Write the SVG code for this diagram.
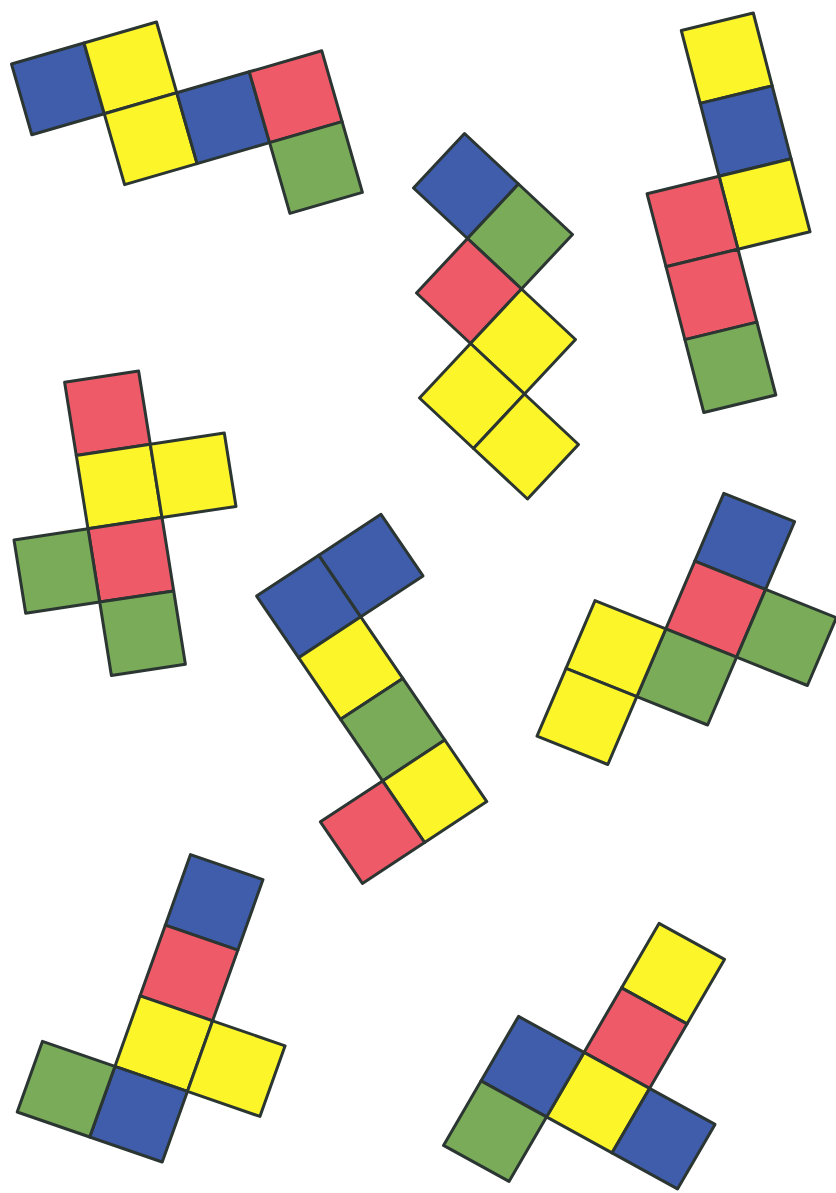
<svg xmlns="http://www.w3.org/2000/svg" width="836" height="1193" viewBox="0 0 836 1193">
<style>
rect{stroke:#2B3532;stroke-width:3;vector-effect:non-scaling-stroke;stroke-linejoin:round}
.b{fill:#3F5DAB}.y{fill:#FBF52A}.r{fill:#EF5A68}.g{fill:#79AB58}
</style>
<rect x="0" y="0" width="836" height="1193" fill="#FFFFFF" style="stroke:none"/>
<g id="net1" transform="matrix(72.5 -21 20.3 70.8 11.5 64)">
<rect class="b" x="0" y="0" width="1" height="1"/>
<rect class="y" x="1" y="0" width="1" height="1"/>
<rect class="y" x="1" y="1" width="1" height="1"/>
<rect class="b" x="2" y="1" width="1" height="1"/>
<rect class="r" x="3" y="1" width="1" height="1"/>
<rect class="g" x="3" y="2" width="1" height="1"/>
</g>
<g id="net2" transform="matrix(54 50.5 -51 54.5 464.5 133.5)">
<rect class="b" x="0" y="0" width="1" height="1"/>
<rect class="g" x="1" y="0" width="1" height="1"/>
<rect class="r" x="1" y="1" width="1" height="1"/>
<rect class="y" x="2" y="1" width="1" height="1"/>
<rect class="y" x="2" y="2" width="1" height="1"/>
<rect class="y" x="3" y="2" width="1" height="1"/>
</g>
<g id="net3" transform="matrix(72 -17.5 18.9 72.9 609.3 48)">
<rect class="y" x="1" y="0" width="1" height="1"/>
<rect class="b" x="1" y="1" width="1" height="1"/>
<rect class="y" x="1" y="2" width="1" height="1"/>
<rect class="r" x="0" y="2" width="1" height="1"/>
<rect class="r" x="0" y="3" width="1" height="1"/>
<rect class="g" x="0" y="4" width="1" height="1"/>
</g>
<g id="net4" transform="matrix(74 -11.2 11.7 73.3 -9.4 393.4)">
<rect class="r" x="1" y="0" width="1" height="1"/>
<rect class="y" x="1" y="1" width="1" height="1"/>
<rect class="y" x="2" y="1" width="1" height="1"/>
<rect class="r" x="1" y="2" width="1" height="1"/>
<rect class="g" x="0" y="2" width="1" height="1"/>
<rect class="g" x="1" y="3" width="1" height="1"/>
</g>
<g id="net5" transform="matrix(62.2 -40.9 42 61.6 194.4 637)">
<rect class="b" x="1" y="0" width="1" height="1"/>
<rect class="b" x="2" y="0" width="1" height="1"/>
<rect class="y" x="1" y="1" width="1" height="1"/>
<rect class="g" x="1" y="2" width="1" height="1"/>
<rect class="y" x="1" y="3" width="1" height="1"/>
<rect class="r" x="0" y="3" width="1" height="1"/>
</g>
<g id="net6" transform="matrix(70.8 28.3 -29 67.8 653 465)">
<rect class="b" x="1" y="0" width="1" height="1"/>
<rect class="r" x="1" y="1" width="1" height="1"/>
<rect class="g" x="2" y="1" width="1" height="1"/>
<rect class="g" x="1" y="2" width="1" height="1"/>
<rect class="y" x="0" y="2" width="1" height="1"/>
<rect class="y" x="0" y="3" width="1" height="1"/>
</g>
<g id="net7" transform="matrix(72.5 25 -25.2 70.6 118 829.6)">
<rect class="b" x="1" y="0" width="1" height="1"/>
<rect class="r" x="1" y="1" width="1" height="1"/>
<rect class="y" x="1" y="2" width="1" height="1"/>
<rect class="y" x="2" y="2" width="1" height="1"/>
<rect class="b" x="1" y="3" width="1" height="1"/>
<rect class="g" x="0" y="3" width="1" height="1"/>
</g>
<g id="net8" transform="matrix(65.5 36 -37.5 64.5 593.5 887.4)">
<rect class="y" x="1" y="0" width="1" height="1"/>
<rect class="r" x="1" y="1" width="1" height="1"/>
<rect class="y" x="1" y="2" width="1" height="1"/>
<rect class="b" x="2" y="2" width="1" height="1"/>
<rect class="b" x="0" y="2" width="1" height="1"/>
<rect class="g" x="0" y="3" width="1" height="1"/>
</g>
</svg>
